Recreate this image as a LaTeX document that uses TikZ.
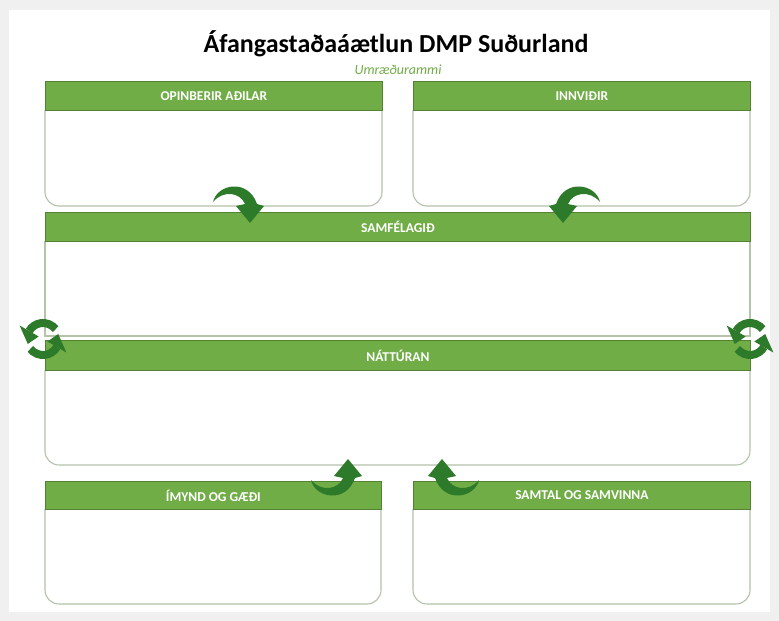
\documentclass[tikz,border=0pt]{standalone}
\usepackage{fontspec}
\setmainfont{Carlito}
\usetikzlibrary{arrows.meta}
\definecolor{hdrgreen}{HTML}{70AD47}
\definecolor{hdrdark}{HTML}{548235}
\definecolor{arrowgreen}{HTML}{2E7A2B}
\definecolor{bodyline}{HTML}{B4C3AA}
\definecolor{pagegray}{HTML}{F0F0F0}
\tikzset{
  hdr/.style={draw=hdrdark, line width=0.8pt, fill=hdrgreen, text=white, font=\bfseries\fontsize{13.5}{15}\selectfont, inner sep=0pt, anchor=north west},
  bodyl/.style={draw=bodyline, line width=1.1pt},
  curv/.pic={\fill[arrowgreen] (-37,-21) .. controls (-33,-39) and (-2,-45) .. (7,-19) -- (14,-17) -- (0,0) -- (-14,-17) -- (-5,-19) .. controls (-10,-31) and (-27,-33) .. cycle;},
  refresh/.pic={
    \draw[arrowgreen, line width=8pt] (-38:16) arc[start angle=-38, end angle=-150, radius=16];
    \fill[arrowgreen] (-150:27) -- (-150:5) -- (162:16) -- cycle;
    \draw[arrowgreen, line width=8pt] (142:16) arc[start angle=142, end angle=30, radius=16];
    \fill[arrowgreen] (30:27) -- (30:5) -- (-18:16) -- cycle;
  }
}
\begin{document}
\begin{tikzpicture}[x=1pt,y=-1pt]
\useasboundingbox (0,0) rectangle (779,621);
\fill[pagegray] (0,0) rectangle (779,621);
\fill[white] (9,10) rectangle (770,612);
% title
\node[font=\bfseries\fontsize{26}{30}\selectfont] (title) at (396,44) {Áfangastaðaáætlun DMP Suðurland};
\node[font=\itshape\fontsize{14}{16}\selectfont, text=hdrgreen] (sub) at (398,70) {Umræðurammi};
% bodies
\draw[bodyl, rounded corners=14] (45,110) -- (45,206) -- (382,206) -- (382,110);
\draw[bodyl, rounded corners=14] (413,110) -- (413,206) -- (750,206) -- (750,110);
\draw[bodyl] (45,241) -- (45,336) -- (750,336) -- (750,241);
\draw[bodyl, rounded corners=14] (45,370) -- (45,465) -- (750,465) -- (750,370);
\draw[bodyl, rounded corners=14] (45,509) -- (45,604) -- (381,604) -- (381,509);
\draw[bodyl, rounded corners=14] (413,509) -- (413,604) -- (750,604) -- (750,509);
% headers
\node[hdr, minimum width=337pt, minimum height=29pt] (h1) at (45,81) {OPINBERIR AÐILAR};
\node[hdr, minimum width=337pt, minimum height=29pt] (h2) at (413,81) {INNVIÐIR};
\node[hdr, minimum width=705pt, minimum height=29pt] (h3) at (45,212) {SAMFÉLAGIÐ};
\node[hdr, minimum width=705pt, minimum height=30pt] (h4) at (45,340) {NÁTTÚRAN};
\node[hdr, minimum width=336pt, minimum height=28pt] (h5) at (45,481) {ÍMYND OG GÆÐI};
\node[hdr, minimum width=337pt, minimum height=28pt] (h6) at (413,481) {SAMTAL OG SAMVINNA};
% curved arrows
\pic at (250,223) {curv};
\pic[xscale=-1] at (563,223) {curv};
\pic[yscale=-1] at (348,459) {curv};
\pic[xscale=-1,yscale=-1] at (442,459) {curv};
% refresh icons
\pic at (43,339) {refresh};
\pic at (750,339) {refresh};
\end{tikzpicture}
\end{document}
